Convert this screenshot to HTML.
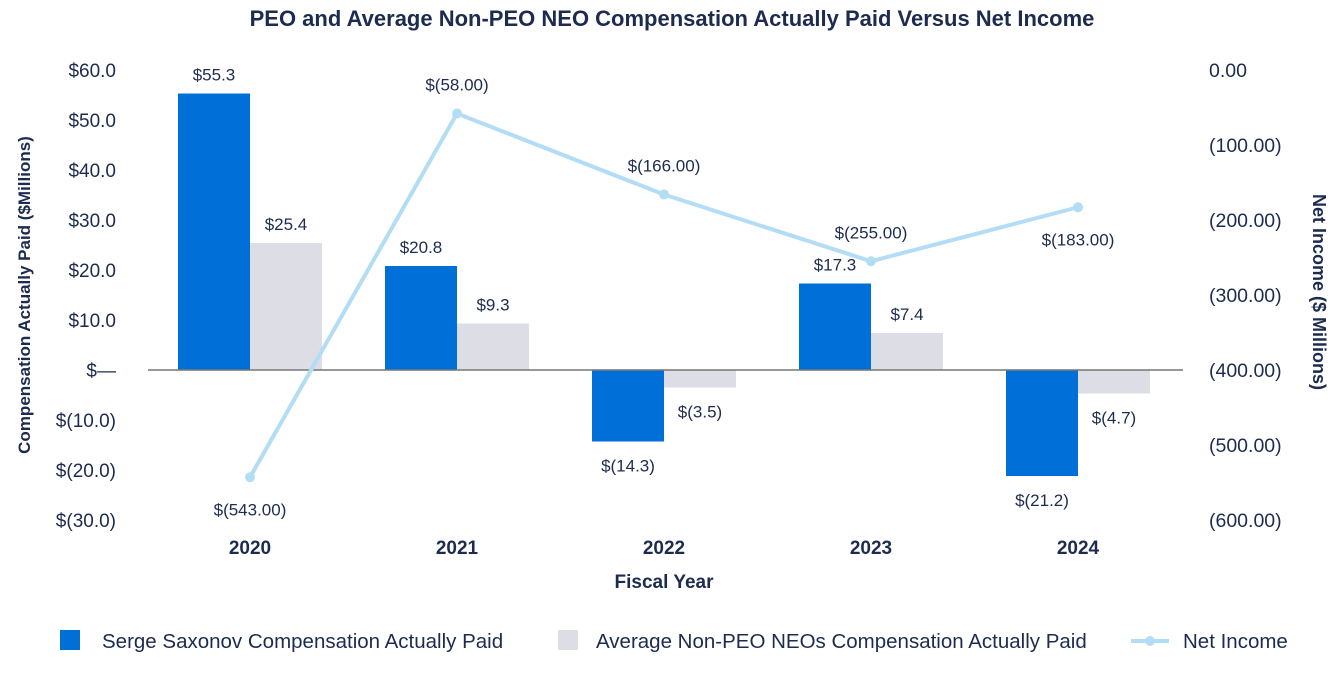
<!DOCTYPE html>
<html><head><meta charset="utf-8"><style>
body{margin:0;background:#fff;font-family:"Liberation Sans",sans-serif;}
svg text{font-family:"Liberation Sans",sans-serif;}
</style></head><body>
<svg id="c" width="1344" height="672" viewBox="0 0 1344 672">
<text x="672" y="26" text-anchor="middle" font-size="22" font-weight="bold" fill="#1c2b4f">PEO and Average Non-PEO NEO Compensation Actually Paid Versus Net Income</text>
<g id="plot"></g>
<text transform="translate(30,295) rotate(-90)" text-anchor="middle" font-size="17" font-weight="bold" fill="#1c2b4f">Compensation Actually Paid ($Millions)</text>
<text transform="translate(1313,292) rotate(90)" text-anchor="middle" font-size="18" font-weight="bold" fill="#1c2b4f">Net Income ($ Millions)</text>
<text x="664" y="588" text-anchor="middle" font-size="19" font-weight="bold" fill="#1c2b4f">Fiscal Year</text>
<g>
<rect x="60" y="630" width="20" height="20" fill="#0070d8"/>
<text x="102" y="648" font-size="20.5" fill="#1c2b4f">Serge Saxonov Compensation Actually Paid</text>
<rect x="558" y="630" width="20" height="20" fill="#dcdde5"/>
<text x="596" y="648" font-size="20.5" fill="#1c2b4f">Average Non-PEO NEOs Compensation Actually Paid</text>
<line x1="1131" y1="641" x2="1169" y2="641" stroke="#b3dcf5" stroke-width="4"/>
<circle cx="1150" cy="641" r="5" fill="#b3dcf5"/>
<text x="1183" y="648" font-size="20.5" fill="#1c2b4f">Net Income</text>
</g>
</svg>
<script>
const years=["2020","2021","2022","2023","2024"];
const peo=[55.3,20.8,-14.3,17.3,-21.2];
const neo=[25.4,9.3,-3.5,7.4,-4.7];
const netIncome=[-543,-58,-166,-255,-183];
const leftTicks=[60,50,40,30,20,10,0,-10,-20,-30];
const rightTicks=[0,-100,-200,-300,-400,-500,-600];
const niLabelBelow=[true,false,false,false,true];

const NS="http://www.w3.org/2000/svg";
const g=document.getElementById('plot');
const yL=v=>370-v*5;
const yR=v=>70-v*0.75;
const xC=i=>250+i*207;
const BW=72;
function el(t,a){const e=document.createElementNS(NS,t);for(const k in a)e.setAttribute(k,a[k]);g.appendChild(e);return e;}
function money(v,d){const s=Math.abs(v).toFixed(d);return v<0?"$("+s+")":"$"+s;}
function plain(v){const s=Math.abs(v).toFixed(2);return v<0?"("+s+")":s;}
const txtC="#1c2b4f";
leftTicks.forEach(v=>{const t=el('text',{x:116,y:yL(v)+7,'text-anchor':'end','font-size':19,fill:txtC});t.textContent=v===0?"$—":money(v,1);

});
rightTicks.forEach(v=>{const t=el('text',{x:1209,y:yR(v)+7,'font-size':19.5,fill:txtC});t.textContent=plain(v);

});
years.forEach((y,i)=>{
const b1=el('rect',{x:xC(i)-BW,y:Math.min(yL(peo[i]),yL(0)),width:BW,height:Math.abs(peo[i])*5,fill:'#0070d8'});


const b2=el('rect',{x:xC(i),y:Math.min(yL(neo[i]),yL(0)),width:BW,height:Math.abs(neo[i])*5,fill:'#dcdde5'});


[[peo[i],xC(i)-BW/2,'peo'],[neo[i],xC(i)+BW/2,'neo']].forEach(([v,x,n])=>{
const ly=v>=0?yL(v)-13:yL(v)+30;
const t=el('text',{x:x,y:ly,'text-anchor':'middle','font-size':17,fill:txtC});t.textContent=money(v,1);

});
const xt=el('text',{x:xC(i),y:554,'text-anchor':'middle','font-size':19,'font-weight':'bold',fill:txtC});xt.textContent=y;


});
const zl=el('line',{x1:148,x2:1183,y1:370,y2:370,stroke:'#777','stroke-width':1.5});


const pl=el('polyline',{points:netIncome.map((v,i)=>xC(i)+","+yR(v)).join(" "),fill:'none',stroke:'#b3dcf5','stroke-width':4});


netIncome.forEach((v,i)=>{
const c=el('circle',{cx:xC(i),cy:yR(v),r:5,fill:'#b3dcf5'});


const t=el('text',{x:xC(i),y:niLabelBelow[i]?yR(v)+38:yR(v)-23,'text-anchor':'middle','font-size':17,fill:txtC});t.textContent="$("+Math.abs(v).toFixed(2)+")";


});
</script>
</body></html>
